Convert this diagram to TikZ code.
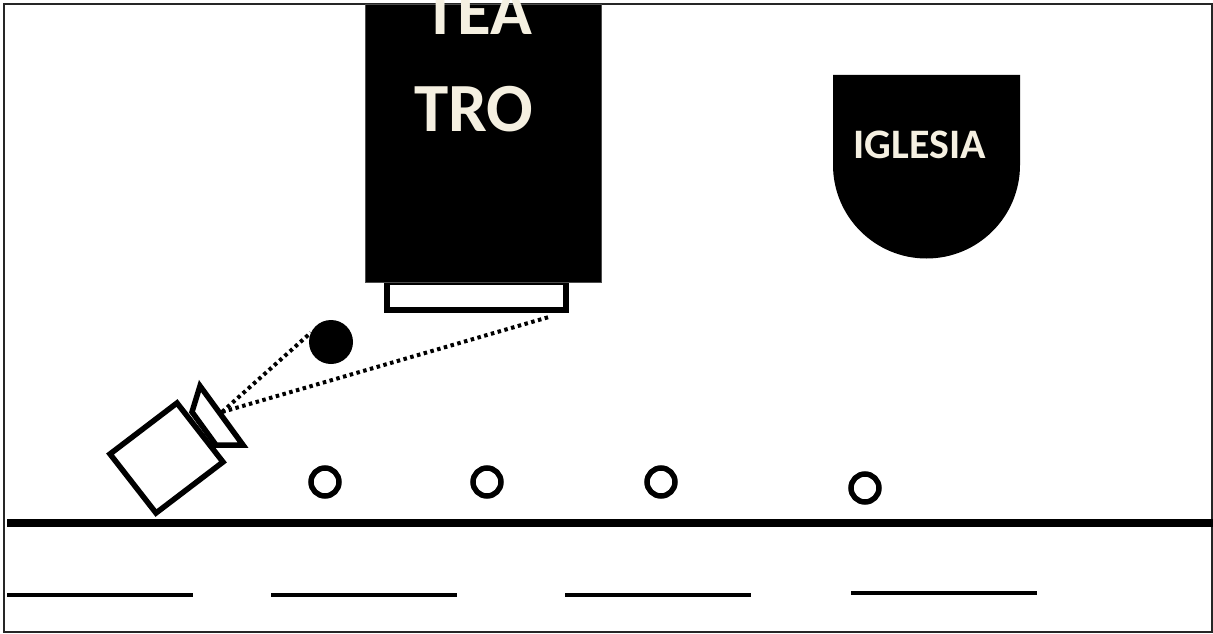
\documentclass[tikz,border=0pt]{standalone}
\usepackage{fontspec}
\setmainfont{Carlito}
\definecolor{crema}{HTML}{F5F0E1}
\tikzset{
    edificio/.style = {fill=black, draw=black!70, line width=0.7pt, inner sep=0pt},
    rotulo/.style   = {text=crema, font=\bfseries\fontsize{#1}{#1}\selectfont, inner sep=0pt},
    peaton/.style   = {circle, draw, line width=5.5pt, minimum size=28pt, inner sep=0pt},
    contorno/.style = {draw, line width=5.5pt},
    visual/.style   = {line width=4pt, dash pattern=on 3.5pt off 3.5pt},
    calzada/.style  = {line width=4.2pt}
}
\begin{document}
\begin{tikzpicture}[x=1pt,y=-1pt]

            \useasboundingbox (0,0) rectangle (1213,634);

            \path   (4,4) coordinate (marcoa)
                    (1212,632) coordinate (marcob)
                    (387,282) coordinate (tarimaa)
                    (566,310) coordinate (tarimab)
                    (222,412) coordinate (ojo)
                    (549,317) coordinate (foco)
                    (7,523) coordinate (bordea)
                    (1213,523) coordinate (bordeb);

            \draw[line width=1.5pt,black!85] (marcoa) rectangle (marcob);

            % tarima goes below the building
            \draw[contorno] (tarimaa) rectangle (tarimab);

            \path   (483,143) node (teatro) [edificio,minimum width=236pt,minimum height=278pt] {}
                    (478,12) node (tea) [rotulo=69] {TEA}
                    (474,109) node (tro) [rotulo=69] {TRO};

            \fill[black] (833,75) -- (1020,75) -- (1020,165) arc (0:180:93.5) -- cycle;
            \path   (919.5,145) node (iglesia) [rotulo=42] {IGLESIA};

            \path   (331,342) node (persona) [circle,fill=black,minimum size=44pt,inner sep=0pt] {}
                    (325,482) node (peatona) [peaton] {}
                    (487,482) node (peatonb) [peaton] {}
                    (661,482) node (peatonc) [peaton] {}
                    (865,488) node (peatond) [peaton] {};

            % camera
            \draw[contorno] (110,454) -- (177,403) -- (223,462) -- (156,513) -- cycle;
            \draw[contorno] (200,386) -- (243,445) -- (216,445) -- (192,412) -- cycle;

            \draw[visual] (ojo) -- (persona.155);
            \draw[visual] (ojo) -- (foco);

            \draw[line width=8pt] (bordea) -- (bordeb);

            \foreach \nombre/\xa/\xb/\yy in {a/7/193/595,b/271/457/595,c/565/751/595,d/851/1037/593}{
                \path (\xa,\yy) coordinate (raya\nombre i) (\xb,\yy) coordinate (raya\nombre f);
                \draw[calzada] (raya\nombre i) -- (raya\nombre f);
            }

        \end{tikzpicture}
\end{document}
